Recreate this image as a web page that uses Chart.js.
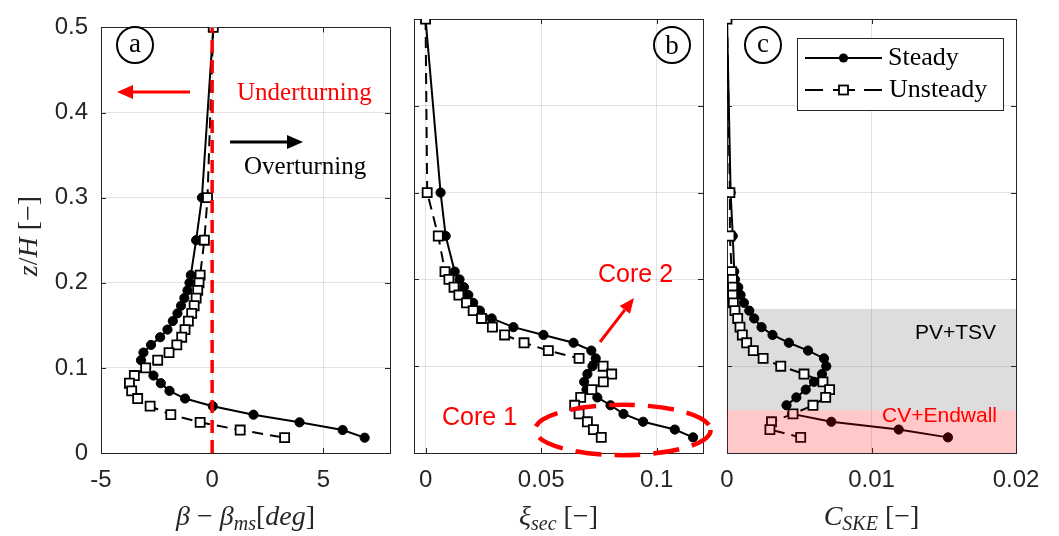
<!DOCTYPE html>
<html>
<head>
<meta charset="utf-8">
<script src="https://cdn.jsdelivr.net/npm/chart.js@4.4.1/dist/chart.umd.min.js"></script>
<style>
  html, body { margin: 0; padding: 0; background: #fff; }
  #wrap { position: relative; width: 1059px; height: 536px; overflow: hidden; }
  canvas { position: absolute; left: 0; top: 0; }
</style>
</head>
<body>
<div id="wrap">
  <canvas id="panelA" width="1059" height="536"></canvas>
  <canvas id="panelB" width="1059" height="536"></canvas>
  <canvas id="panelC" width="1059" height="536"></canvas>
</div>
<script>
// Spanwise measurement heights z/H (shared by all three profiles)
const zH = [0.5, 0.3, 0.25, 0.209, 0.2, 0.191, 0.182, 0.173, 0.164, 0.155, 0.145, 0.136, 0.127,
            0.118, 0.109, 0.1, 0.091, 0.082, 0.073, 0.064, 0.055, 0.045, 0.036, 0.027, 0.018];

// (a) yaw angle deviation beta - beta_ms [deg]
const betaSteady   = [0.05, -0.46, -0.72, -0.96, -1.02, -1.11, -1.25, -1.40, -1.56, -1.77, -2.01, -2.34, -2.75,
                      -3.09, -3.20, -2.97, -2.64, -2.31, -1.92, -1.22, 0.03, 1.86, 3.93, 5.87, 6.86];
const betaUnsteady = [0.05, -0.21, -0.35, -0.54, -0.59, -0.65, -0.72, -0.81, -0.92, -1.07, -1.22, -1.37, -1.59,
                      -1.94, -2.45, -2.99, -3.50, -3.72, -3.62, -3.35, -2.79, -1.86, -0.54, 1.26, 3.26];

// (b) secondary loss coefficient xi_sec [-]
const xiSteady   = [0, 0.0065, 0.0087, 0.0126, 0.0147, 0.0166, 0.0185, 0.0206, 0.0235, 0.0286, 0.038, 0.051, 0.064,
                    0.0717, 0.0736, 0.0722, 0.0700, 0.0686, 0.0696, 0.0743, 0.0800, 0.0856, 0.0941, 0.1078, 0.1157];
const xiUnsteady = [0, 0.0007, 0.0055, 0.0084, 0.0101, 0.0123, 0.0144, 0.0177, 0.0206, 0.0242, 0.0289, 0.0342, 0.0426,
                    0.0531, 0.0664, 0.0768, 0.0805, 0.0769, 0.0719, 0.0671, 0.0645, 0.0664, 0.0700, 0.0726, 0.0760];

// (c) secondary kinetic energy coefficient C_SKE [-]
const cskeSteady   = [0, 0.00025, 0.0004, 0.0005, 0.00055, 0.00078, 0.00094, 0.00117, 0.00154, 0.00188, 0.00239, 0.00315, 0.00428,
                      0.00561, 0.00671, 0.00687, 0.00657, 0.00602, 0.00545, 0.0048, 0.00412, 0.0045, 0.00722, 0.01188, 0.01529];
const cskeUnsteady = [0, 0.0002, 0.0002, 0.00032, 0.00037, 0.00039, 0.00039, 0.00044, 0.00055, 0.00074, 0.0009, 0.00106, 0.00136,
                      0.00182, 0.0025, 0.00372, 0.00533, 0.00664, 0.0071, 0.00683, 0.00595, 0.00457, 0.00308, 0.00297, 0.0051];

// Zero-deviation reference line in panel (a)
const refLineBeta = [0, 0];
const refLineZ    = [0, 0.5];

// Axis ranges and tick values
const zRange = [0, 0.5];
const zTicks = [0, 0.1, 0.2, 0.3, 0.4, 0.5];
const betaRange = [-5, 8];
const betaTicks = [-5, 0, 5];
const xiRange = [-0.005, 0.12];
const xiTicks = [0, 0.05, 0.1];
const cskeRange = [0, 0.02];
const cskeTicks = [0, 0.01, 0.02];

// Flow-structure bands in panel (c), in z/H
const endwallBand = [0, 0.049];
const vortexBand  = [0.049, 0.166];

// Highlight ellipse around Core 1 in panel (b): centre (xi, z/H) and semi-axes
const core1Ellipse = { x: 0.0853, z: 0.0265, rx: 0.038, rz: 0.029 };

const SERIF = '"Liberation Serif", "Times New Roman", serif';
const SANS  = '"Liberation Sans", Arial, sans-serif';
const AXIS_COLOR = '#262626';

function pts(xs, zs) { return zs.map((z, i) => ({ x: xs[i], y: z })); }

function steadyDataset(xs) {
  return {
    label: 'Steady', data: pts(xs, zH), showLine: true, order: 2,
    borderColor: '#000', borderWidth: 2, pointStyle: 'circle', pointRadius: 4.6,
    pointBackgroundColor: '#000', pointBorderColor: '#000', pointBorderWidth: 1
  };
}
function unsteadyDataset(xs) {
  return {
    label: 'Unsteady', data: pts(xs, zH), showLine: true, order: 1,
    borderColor: '#000', borderWidth: 2, borderDash: [11, 7], pointStyle: 'rect', pointRadius: 6.4,
    pointBackgroundColor: '#fff', pointBorderColor: '#000', pointBorderWidth: 1.8
  };
}

// Mixed-style text (italic math symbols, subscripts) drawn piecewise
function richText(ctx, parts, x, y, rotate) {
  ctx.save();
  ctx.translate(x, y);
  if (rotate) ctx.rotate(-Math.PI / 2);
  let w = 0;
  parts.forEach(p => {
    ctx.font = (p.i ? 'italic ' : '') + p.s + 'px ' + SERIF;
    p.w = ctx.measureText(p.t).width + (p.gap || 0);
    w += p.w;
  });
  let cx = -w / 2;
  ctx.fillStyle = AXIS_COLOR;
  ctx.textBaseline = 'alphabetic';
  ctx.textAlign = 'left';
  parts.forEach(p => {
    ctx.font = (p.i ? 'italic ' : '') + p.s + 'px ' + SERIF;
    ctx.fillText(p.t, cx, p.dy || 0);
    cx += p.w;
  });
  ctx.restore();
}

function arrow(ctx, x1, y1, x2, y2, color, lw, headLen, headW) {
  const a = Math.atan2(y2 - y1, x2 - x1);
  const bx = x2 - headLen * Math.cos(a), by = y2 - headLen * Math.sin(a);
  ctx.save();
  ctx.strokeStyle = color; ctx.fillStyle = color; ctx.lineWidth = lw;
  ctx.beginPath(); ctx.moveTo(x1, y1); ctx.lineTo(bx, by); ctx.stroke();
  ctx.beginPath();
  ctx.moveTo(x2, y2);
  ctx.lineTo(bx + headW / 2 * Math.sin(a), by - headW / 2 * Math.cos(a));
  ctx.lineTo(bx - headW / 2 * Math.sin(a), by + headW / 2 * Math.cos(a));
  ctx.closePath(); ctx.fill();
  ctx.restore();
}

function circledLetter(ctx, letter, cx, cy, baseOff) {
  ctx.save();
  ctx.strokeStyle = '#000'; ctx.lineWidth = 2;
  ctx.beginPath(); ctx.arc(cx, cy, 18, 0, Math.PI * 2); ctx.stroke();
  ctx.fillStyle = '#000'; ctx.font = '27px ' + SERIF;
  ctx.textAlign = 'center'; ctx.textBaseline = 'alphabetic';
  ctx.fillText(letter, cx, cy + baseOff);
  ctx.restore();
}

function textAt(ctx, str, x, y, font, color, align) {
  ctx.save();
  ctx.font = font; ctx.fillStyle = color;
  ctx.textAlign = align || 'left'; ctx.textBaseline = 'alphabetic';
  ctx.fillText(str, x, y);
  ctx.restore();
}

// Box outline with MATLAB-style inward tick marks
function frameAndTicks(chart) {
  const { ctx, chartArea: a, scales } = chart;
  ctx.save();
  ctx.strokeStyle = AXIS_COLOR; ctx.lineWidth = 1;
  ctx.strokeRect(Math.round(a.left) + 0.5, Math.round(a.top) + 0.5,
                 Math.round(a.right - a.left), Math.round(a.bottom - a.top));
  ctx.beginPath();
  scales.x.ticks.forEach(t => {
    const px = Math.round(scales.x.getPixelForValue(t.value)) + 0.5;
    if (px <= a.left + 1 || px >= a.right - 1) return;
    ctx.moveTo(px, a.bottom); ctx.lineTo(px, a.bottom - 5);
    ctx.moveTo(px, a.top); ctx.lineTo(px, a.top + 5);
  });
  scales.y.ticks.forEach(t => {
    const py = Math.round(scales.y.getPixelForValue(t.value)) + 0.5;
    if (py <= a.top + 1 || py >= a.bottom - 1) return;
    ctx.moveTo(a.left, py); ctx.lineTo(a.left + 5, py);
    ctx.moveTo(a.right, py); ctx.lineTo(a.right - 5, py);
  });
  ctx.stroke();
  ctx.restore();
}

function makePanel(id, opt) {
  const decoPlugin = {
    id: 'deco_' + id,
    beforeDatasetsDraw(chart) {
      if (opt.under) opt.under(chart);
      frameAndTicks(chart);
    },
    afterDatasetsDraw(chart) {
      if (opt.over) opt.over(chart);
      richText(chart.ctx, opt.xTitle, (chart.chartArea.left + chart.chartArea.right) / 2, 525, false);
      if (opt.yTitle) richText(chart.ctx, opt.yTitle, 37, 236, true);
    }
  };
  return new Chart(document.getElementById(id), {
    type: 'scatter',
    data: { datasets: opt.datasets },
    options: {
      responsive: false, animation: false, events: [],
      layout: { padding: { top: 19, right: 1059 - opt.right, bottom: 0, left: 0 } },
      plugins: { legend: { display: false }, tooltip: { enabled: false } },
      scales: {
        x: {
          type: 'linear', min: opt.range[0], max: opt.range[1],
          afterBuildTicks: s => { s.ticks = opt.ticks.map(v => ({ value: v })); },
          afterFit: s => { s.height = 536 - 453; },
          grid: { color: 'rgba(38,38,38,0.13)', lineWidth: 1, drawTicks: false },
          border: { display: false },
          ticks: { padding: 13, color: AXIS_COLOR, font: { family: SANS, size: 24 },
                   maxRotation: 0, autoSkip: false, callback: v => String(v) }
        },
        y: {
          type: 'linear', min: zRange[0], max: zRange[1],
          afterBuildTicks: s => { s.ticks = zTicks.map(v => ({ value: v })); },
          afterFit: s => { s.width = opt.left; },
          grid: { color: 'rgba(38,38,38,0.13)', lineWidth: 1, drawTicks: false },
          border: { display: false },
          ticks: { display: opt.yLabels, padding: 13, color: AXIS_COLOR, font: { family: SANS, size: 24 },
                   autoSkip: false, callback: v => String(v) }
        }
      }
    },
    plugins: [decoPlugin]
  });
}

// Panel (a)
makePanel('panelA', {
  left: 101, right: 390, range: betaRange, ticks: betaTicks, yLabels: true,
  datasets: [
    steadyDataset(betaSteady),
    unsteadyDataset(betaUnsteady),
    { label: 'beta = 0', data: pts(refLineBeta, refLineZ), showLine: true, order: 0,
      borderColor: '#ff0000', borderWidth: 3.5, borderDash: [13, 7], pointRadius: 0 }
  ],
  xTitle: [
    { t: 'β', s: 28, i: true }, { t: ' − ', s: 28 }, { t: 'β', s: 28, i: true },
    { t: 'ms', s: 20, i: true, dy: 5 }, { t: '[', s: 28 }, { t: 'deg', s: 28, i: true }, { t: ']', s: 28 }
  ],
  yTitle: [ { t: 'z', s: 28, i: true }, { t: '/', s: 28 }, { t: 'H', s: 28, i: true }, { t: ' [−]', s: 28 } ],
  over(chart) {
    const ctx = chart.ctx;
    circledLetter(ctx, 'a', 135, 45, 7);
    arrow(ctx, 190, 92, 117, 92, '#ff0000', 3, 16, 14);
    textAt(ctx, 'Underturning', 237, 100, '25px ' + SERIF, '#ff0000');
    arrow(ctx, 230, 142, 303, 142, '#000', 3, 16, 14);
    textAt(ctx, 'Overturning', 244, 174, '25px ' + SERIF, '#000');
  }
});

// Panel (b)
makePanel('panelB', {
  left: 414, right: 703, range: xiRange, ticks: xiTicks, yLabels: false,
  datasets: [ steadyDataset(xiSteady), unsteadyDataset(xiUnsteady) ],
  xTitle: [ { t: 'ξ', s: 28, i: true }, { t: 'sec', s: 20, i: true, dy: 5 }, { t: ' [−]', s: 28 } ],
  over(chart) {
    const ctx = chart.ctx, sx = chart.scales.x, sy = chart.scales.y;
    circledLetter(ctx, 'b', 672, 45, 9);
    textAt(ctx, 'Core 2', 598, 282, '25px ' + SANS, '#ff0000');
    arrow(ctx, 600, 342, 634, 298, '#ff0000', 3, 15, 13);
    textAt(ctx, 'Core 1', 442, 425, '25px ' + SANS, '#ff0000');
    const cx = sx.getPixelForValue(core1Ellipse.x), cy = sy.getPixelForValue(core1Ellipse.z);
    const rx = Math.abs(sx.getPixelForValue(core1Ellipse.x + core1Ellipse.rx) - cx);
    const ry = Math.abs(sy.getPixelForValue(core1Ellipse.z + core1Ellipse.rz) - cy);
    ctx.save();
    ctx.strokeStyle = '#ff0000'; ctx.lineWidth = 4.5; ctx.setLineDash([26, 13]);
    ctx.beginPath(); ctx.ellipse(cx, cy, rx, ry, 0, 0, Math.PI * 2); ctx.stroke();
    ctx.restore();
  }
});

// Panel (c)
makePanel('panelC', {
  left: 727, right: 1016, range: cskeRange, ticks: cskeTicks, yLabels: false,
  datasets: [ steadyDataset(cskeSteady), unsteadyDataset(cskeUnsteady) ],
  xTitle: [ { t: 'C', s: 28, i: true }, { t: 'SKE', s: 20, i: true, dy: 5 }, { t: ' [−]', s: 28 } ],
  under(chart) {
    const { ctx, chartArea: a, scales } = chart;
    const y0 = scales.y.getPixelForValue(vortexBand[0]), y1 = scales.y.getPixelForValue(vortexBand[1]);
    ctx.save();
    ctx.fillStyle = 'rgba(128,128,128,0.27)';
    ctx.fillRect(a.left, y1, a.right - a.left, y0 - y1);
    ctx.restore();
  },
  over(chart) {
    const { ctx, chartArea: a, scales } = chart;
    const y0 = scales.y.getPixelForValue(endwallBand[0]), y1 = scales.y.getPixelForValue(endwallBand[1]);
    ctx.save();
    ctx.fillStyle = 'rgba(255,0,0,0.21)';
    ctx.fillRect(a.left, y1, a.right - a.left, y0 - y1);
    ctx.restore();
    textAt(ctx, 'PV+TSV', 996, 339, '21px ' + SANS, '#000', 'right');
    textAt(ctx, 'CV+Endwall', 997, 422, '21px ' + SANS, '#ff0000', 'right');
    circledLetter(ctx, 'c', 763, 45, 7);

    // Legend box
    ctx.save();
    ctx.fillStyle = '#fff'; ctx.fillRect(797, 38, 206, 72);
    ctx.strokeStyle = AXIS_COLOR; ctx.lineWidth = 1; ctx.strokeRect(797.5, 38.5, 206, 72);
    ctx.strokeStyle = '#000'; ctx.lineWidth = 2;
    ctx.beginPath(); ctx.moveTo(805, 58); ctx.lineTo(882, 58); ctx.stroke();
    ctx.fillStyle = '#000'; ctx.beginPath(); ctx.arc(843.5, 58, 4.6, 0, Math.PI * 2); ctx.fill();
    ctx.beginPath(); ctx.moveTo(805, 90); ctx.lineTo(823, 90); ctx.moveTo(864, 90); ctx.lineTo(882, 90); ctx.stroke();
    ctx.moveTo(833, 90); ctx.lineTo(855, 90); ctx.stroke();
    ctx.fillStyle = '#fff'; ctx.lineWidth = 1.8;
    ctx.fillRect(839, 85.5, 9, 9); ctx.strokeRect(839, 85.5, 9, 9);
    ctx.restore();
    textAt(ctx, 'Steady', 888, 65, '26px ' + SERIF, '#000');
    textAt(ctx, 'Unsteady', 889, 97, '26px ' + SERIF, '#000');
  }
});
</script>
</body>
</html>
